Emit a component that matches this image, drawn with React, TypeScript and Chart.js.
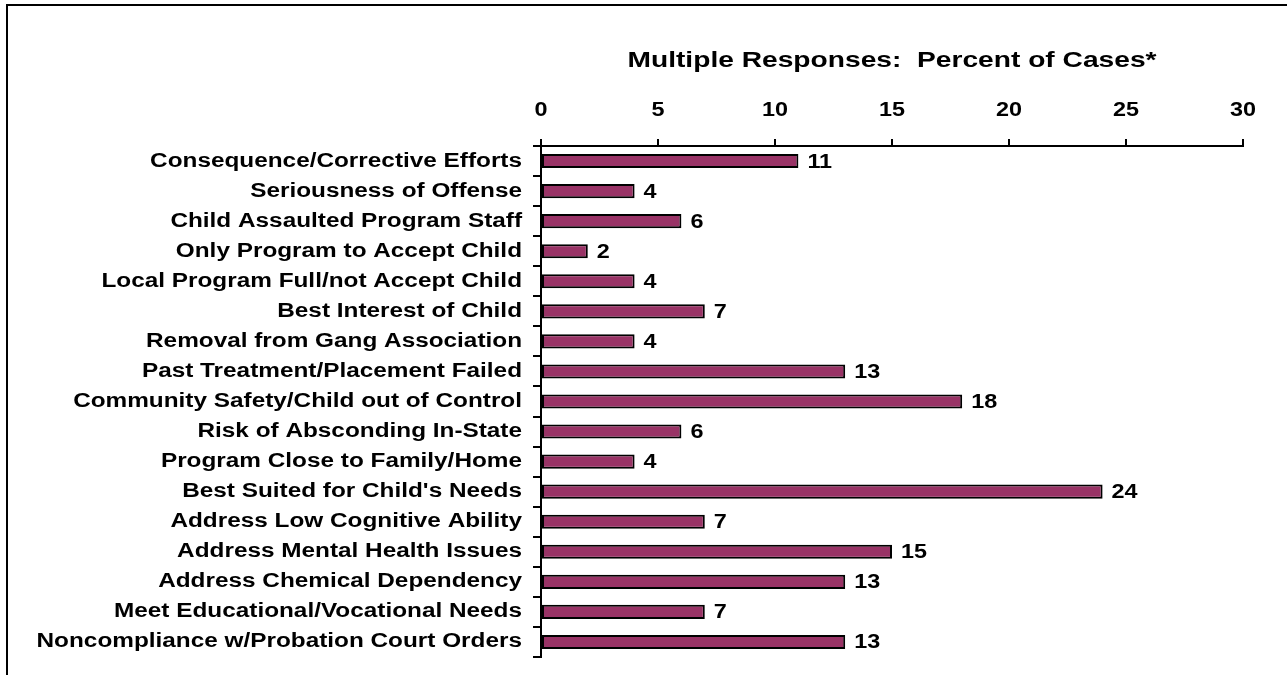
import React, { useEffect, useRef } from "react";
import { Chart, registerables } from "chart.js";

Chart.register(...registerables);

const categories: string[] = [
  "Consequence/Corrective Efforts",
  "Seriousness of Offense",
  "Child Assaulted Program Staff",
  "Only Program to Accept Child",
  "Local Program Full/not Accept Child",
  "Best Interest of Child",
  "Removal from Gang Association",
  "Past Treatment/Placement Failed",
  "Community Safety/Child out of Control",
  "Risk of Absconding In-State",
  "Program Close to Family/Home",
  "Best Suited for Child's Needs",
  "Address Low Cognitive Ability",
  "Address Mental Health Issues",
  "Address Chemical Dependency",
  "Meet Educational/Vocational Needs",
  "Noncompliance w/Probation Court Orders",
];

const percentOfCases: number[] = [11, 4, 6, 2, 4, 7, 4, 13, 18, 6, 4, 24, 7, 15, 13, 7, 13];

const axisMin = 0;
const axisMax = 30;
const axisStep = 5;

const chartTitle = "Multiple Responses:  Percent of Cases*";

const FONT = "'Liberation Sans', Arial, sans-serif";
// The lettering is set in a widened Arial-style face
const TEXT_STRETCH = 1.2;
const TITLE_STRETCH = 1.31;

function drawWideText(
  ctx: CanvasRenderingContext2D,
  text: string,
  x: number,
  y: number,
  align: CanvasTextAlign,
  stretch: number
) {
  ctx.save();
  ctx.translate(x, y);
  ctx.scale(stretch, 1);
  ctx.textAlign = align;
  ctx.textBaseline = "alphabetic";
  ctx.fillText(text, 0, 0);
  ctx.restore();
}

// Frame around the figure, title, axis labels and the value next to each bar
const decorations = {
  id: "decorations",
  beforeDraw(chart: Chart) {
    const { ctx, width, height } = chart;
    ctx.save();
    ctx.fillStyle = "#ffffff";
    ctx.fillRect(0, 0, width, height);
    ctx.strokeStyle = "#000000";
    ctx.lineWidth = 2;
    ctx.beginPath();
    ctx.moveTo(7, height + 2);
    ctx.lineTo(7, 5);
    ctx.lineTo(width + 2, 5);
    ctx.stroke();
    ctx.restore();
  },
  afterDraw(chart: Chart) {
    const { ctx, chartArea } = chart;
    const xScale: any = chart.scales.x;
    const yScale: any = chart.scales.y;
    ctx.save();
    ctx.fillStyle = "#000000";

    ctx.font = `bold 21.5px ${FONT}`;
    drawWideText(ctx, chartTitle, (chartArea.left + chartArea.right) / 2, chartArea.top - 79, "center", TITLE_STRETCH);

    ctx.font = `bold 19.5px ${FONT}`;
    xScale.ticks.forEach((t: any) => {
      drawWideText(ctx, String(t.value), xScale.getPixelForValue(t.value), chartArea.top - 30, "center", TEXT_STRETCH);
    });

    ctx.font = `bold 20.3px ${FONT}`;
    categories.forEach((label, i) => {
      drawWideText(ctx, label, chartArea.left - 19, yScale.getPixelForValue(i) + 5.5, "right", TEXT_STRETCH);
    });

    ctx.font = `bold 19.5px ${FONT}`;
    const meta = chart.getDatasetMeta(0);
    meta.data.forEach((bar: any, i: number) => {
      drawWideText(ctx, String(percentOfCases[i]), bar.x + 9, bar.y + 6.5, "left", TEXT_STRETCH);
    });
    ctx.restore();
  },
};

export default function App() {
  const canvasRef = useRef<HTMLCanvasElement | null>(null);

  useEffect(() => {
    document.body.style.margin = "0";
    const canvas = canvasRef.current;
    if (!canvas) return;
    const chart = new Chart(canvas, {
      type: "bar",
      data: {
        labels: categories,
        datasets: [
          {
            data: percentOfCases,
            backgroundColor: "#993366",
            borderColor: "#000000",
            borderWidth: 2,
            borderSkipped: false,
            barPercentage: 0.47,
            categoryPercentage: 1,
          },
        ],
      },
      options: {
        indexAxis: "y",
        animation: false,
        responsive: false,
        maintainAspectRatio: false,
        layout: { padding: { top: 86, bottom: 18, right: 44, left: 0 } },
        plugins: {
          legend: { display: false },
          tooltip: { enabled: false },
          title: { display: false },
        },
        scales: {
          x: {
            position: "top",
            min: axisMin,
            max: axisMax,
            ticks: { stepSize: axisStep, display: false },
            grid: {
              drawOnChartArea: false,
              drawTicks: true,
              tickLength: 7,
              color: "#000000",
              lineWidth: 2,
            },
            border: { display: true, color: "#000000", width: 2 },
            afterFit(scale: any) {
              scale.height = 60;
            },
          },
          y: {
            ticks: { display: false, autoSkip: false },
            grid: {
              drawOnChartArea: false,
              drawTicks: true,
              offset: true,
              tickLength: 8,
              color: "#000000",
              lineWidth: 2,
            },
            border: { display: true, color: "#000000", width: 2 },
            afterFit(scale: any) {
              scale.width = 541;
            },
          },
        },
      },
      plugins: [decorations],
    });
    return () => chart.destroy();
  }, []);

  return <canvas ref={canvasRef} width={1287} height={675} style={{ display: "block" }} />;
}
